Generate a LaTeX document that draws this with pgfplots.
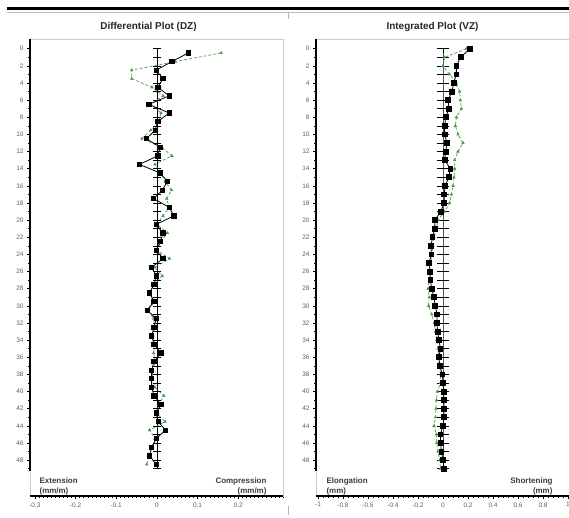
\documentclass[border=0pt]{standalone}
\usepackage{pgfplots}
\pgfplotsset{compat=1.18}
\usepackage{pgfplotstable}
\usepackage{fontspec}
\setmainfont{Liberation Sans}
\definecolor{grn}{RGB}{70,155,70}
\definecolor{tickgray}{RGB}{95,95,95}
\definecolor{labgray}{RGB}{60,60,60}

\pgfplotstableread{
x y
0.077 0.5
0.037 1.5
-0.002 2.5
0.015 3.5
0.002 4.5
0.030 5.5
-0.020 6.5
0.030 7.5
0.002 8.5
-0.004 9.5
-0.026 10.5
0.008 11.5
0.002 12.5
-0.043 13.5
0.008 14.5
0.026 15.5
0.013 16.5
-0.008 17.5
0.030 18.5
0.042 19.5
-0.002 20.5
0.015 21.5
0.009 22.5
-0.002 23.5
0.015 24.5
-0.013 25.5
-0.002 26.5
-0.007 27.5
-0.018 28.5
-0.007 29.5
-0.024 30.5
-0.002 31.5
-0.007 32.5
-0.013 33.5
-0.007 34.5
0.010 35.5
-0.007 36.5
-0.013 37.5
-0.013 38.5
-0.013 39.5
-0.007 40.5
0.010 41.5
-0.002 42.5
0.003 43.5
0.021 44.5
-0.002 45.5
-0.013 46.5
-0.018 47.5
-0.002 48.5
}\dzb

\pgfplotstableread{
x y
0.158 0.5
0.045 1.5
-0.062 2.5
-0.062 3.5
-0.012 4.5
0.015 5.5
-0.015 6.5
0.010 7.5
0.005 8.5
-0.015 9.5
-0.037 10.5
0.012 11.5
0.037 12.5
-0.005 13.5
0.010 14.5
0.020 15.5
0.036 16.5
0.024 17.5
0.030 18.5
0.015 19.5
0.000 20.5
0.026 21.5
0.010 22.5
0.000 23.5
0.031 24.5
-0.005 25.5
0.013 26.5
-0.005 27.5
-0.020 28.5
-0.005 29.5
-0.022 30.5
-0.008 31.5
-0.005 32.5
-0.010 33.5
-0.005 34.5
-0.008 35.5
-0.005 36.5
-0.010 37.5
-0.012 38.5
-0.005 39.5
0.017 40.5
0.005 41.5
-0.002 42.5
0.020 43.5
-0.018 44.5
-0.005 45.5
-0.010 46.5
-0.020 47.5
-0.025 48.5
}\dzg

\pgfplotstableread{
x y
0.215 0
0.141 1
0.107 2
0.107 3
0.085 4
0.072 5
0.040 6
0.048 7
0.021 8
0.013 9
0.013 10
0.032 11
0.021 12
0.013 13
0.059 14
0.045 15
0.018 16
0.009 17
0.010 18
-0.018 19
-0.064 20
-0.066 21
-0.084 22
-0.096 23
-0.093 24
-0.112 25
-0.102 26
-0.101 27
-0.090 28
-0.072 29
-0.063 30
-0.047 31
-0.049 32
-0.043 33
-0.032 34
-0.021 35
-0.032 36
-0.027 37
-0.005 38
0.000 39
0.005 40
0.008 41
0.008 42
0.008 43
0.000 44
-0.021 45
-0.019 46
-0.013 47
0.000 48
0.008 49
}\vzb

\pgfplotstableread{
x y
0.187 0
0.013 1
0.000 2
0.053 3
0.107 4
0.133 5
0.139 6
0.147 7
0.107 8
0.099 9
0.120 10
0.160 11
0.120 12
0.093 13
0.093 14
0.088 15
0.080 16
0.067 17
0.053 18
0.013 19
-0.040 20
-0.053 21
-0.072 22
-0.080 23
-0.090 24
-0.100 25
-0.110 26
-0.110 27
-0.120 28
-0.110 29
-0.115 30
-0.090 31
-0.070 32
-0.060 33
-0.050 34
-0.040 35
-0.035 36
-0.030 37
-0.020 38
-0.020 39
-0.045 40
-0.053 41
-0.056 42
-0.060 43
-0.072 44
-0.053 45
-0.050 46
-0.040 47
-0.027 48
-0.020 49
}\vzg

\pgfplotstableread{
x y
0 0
0 1
0 2
0 3
0 4
0 5
0 6
0 7
0 8
0 9
0 10
0 11
0 12
0 13
0 14
0 15
0 16
0 17
0 18
0 19
0 20
0 21
0 22
0 23
0 24
0 25
0 26
0 27
0 28
0 29
0 30
0 31
0 32
0 33
0 34
0 35
0 36
0 37
0 38
0 39
0 40
0 41
0 42
0 43
0 44
0 45
0 46
0 47
0 48
0 49
}\zeroline

\pgfplotsset{
  depthaxis/.style={
    scale only axis, width=253bp, height=457bp,
    y dir=reverse, ymin=-1.132, ymax=52.19,
    ytick={0,2,...,48}, minor ytick={1,3,...,49},
    xtick pos=bottom, ytick pos=left,
    tick align=outside,
    major tick length=3bp, minor tick length=2bp,
    tick style={black, line width=0.5pt},
    axis line style={gray!40, line width=0.5pt},
    tick label style={font=\fontsize{6.5}{7}\selectfont, text=tickgray},
    /pgf/number format/assume math mode=true,
    clip=false,
  },
  blk/.style={black, line width=0.8pt, mark=square*, mark size=2.2pt},
  gr/.style={grn, densely dashed, line width=0.7pt, mark=triangle*, mark size=1.3pt, mark options={solid}},
}
\tikzset{lab/.style={font=\fontsize{8}{9.5}\selectfont\bfseries, text=labgray}}

\begin{document}
\begin{tikzpicture}
\path[use as bounding box] (0,0) rectangle (569bp,518bp);
\draw[line width=3bp] (7bp,509bp) -- (569bp,509bp);
\draw[gray!50, line width=0.5bp] (7bp,505.5bp) -- (569bp,505.5bp);
\draw[gray!60, line width=0.6bp] (288bp,506bp) -- (288bp,499bp);
\draw[gray!60, line width=0.6bp] (288bp,12bp) -- (288bp,3bp);
\node[font=\fontsize{10}{12}\selectfont\bfseries, text=black!85] at (148.5bp,491bp) {Differential Plot (DZ)};
\node[font=\fontsize{10}{12}\selectfont\bfseries, text=black!85] at (432.5bp,491bp) {Integrated Plot (VZ)};

\begin{axis}[depthaxis, at={(30bp,22bp)}, anchor=south west,
  xmin=-0.312, xmax=0.31,
  xtick={-0.3,-0.2,-0.1,0,0.1,0.2},
  xticklabels={-0.3,-0.2,-0.1,0,0.1,0.2},
  minor xtick={-0.29,-0.28,...,0.305}]
\addplot[black, line width=0.6pt, mark=-, mark size=4.3bp, mark options={line width=0.6pt}] table {\zeroline};
\addplot[gr] table {\dzg};
\addplot[blk] table {\dzb};
\draw[black, line width=2pt] (axis cs:-0.312,-1.132) -- (axis cs:-0.312,49.3);
\draw[black, line width=2pt] (axis cs:-0.312,52.19) -- (axis cs:0.31,52.19);
\node[lab, anchor=north west, align=left] at (axis cs:-0.297,49.7) {Extension\\(mm/m)};
\node[lab, anchor=north east, align=right] at (axis cs:0.278,49.7) {Compression\\(mm/m)};
\end{axis}

\begin{axis}[depthaxis, at={(316bp,22bp)}, anchor=south west,
  xmin=-1.016, xmax=1.008,
  xtick={-1,-0.8,-0.6,-0.4,-0.2,0,0.2,0.4,0.6,0.8,1},
  xticklabels={-1,-0.8,-0.6,-0.4,-0.2,0,0.2,0.4,0.6,0.8,1},
  minor xtick={-0.96,-0.92,...,1.0}]
\addplot[black, line width=0.6pt, mark=-, mark size=5.6bp, mark options={line width=0.6pt}] table {\zeroline};
\addplot[gr] table {\vzg};
\addplot[blk, mark size=2.4pt] table {\vzb};
\draw[black, line width=2pt] (axis cs:-1.016,-1.132) -- (axis cs:-1.016,49.3);
\draw[black, line width=2pt] (axis cs:-1.016,52.19) -- (axis cs:1.008,52.19);
\node[lab, anchor=north west, align=left] at (axis cs:-0.96,49.7) {Elongation\\(mm)};
\node[lab, anchor=north east, align=right] at (axis cs:0.904,49.7) {Shortening\\(mm)};
\end{axis}
\end{tikzpicture}
\end{document}
